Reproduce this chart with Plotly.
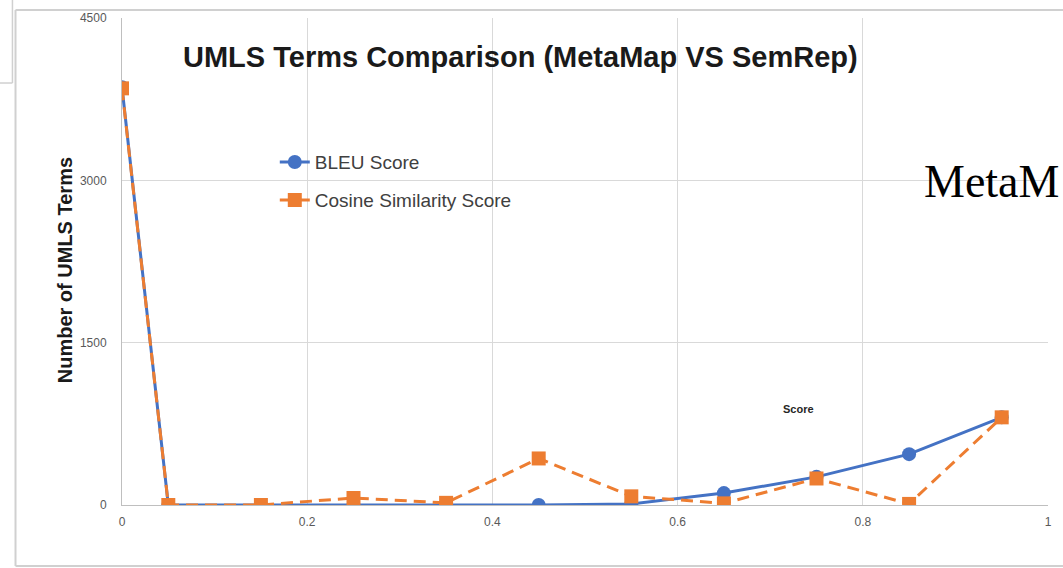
import plotly.graph_objects as go

# Score bins (x) and number of UMLS terms per bin for each metric
score_bins = [0, 0.05, 0.15, 0.25, 0.35, 0.45, 0.55, 0.65, 0.75, 0.85, 0.95]
bleu_terms = [3860, 0, 0, 0, 5, 0, 10, 110, 260, 470, 810]
cosine_terms = [3850, 0, 0, 65, 20, 430, 80, 15, 245, 10, 810]

x_ticks = [0, 0.2, 0.4, 0.6, 0.8, 1]
y_ticks = [0, 1500, 3000, 4500]

BLUE = "#4472C4"
ORANGE = "#ED7D31"
GRID = "#d9d9d9"
FONT = "Liberation Sans, Arial, sans-serif"

fig = go.Figure()

fig.add_trace(go.Scatter(
    x=score_bins, y=bleu_terms, name="BLEU Score", mode="lines+markers",
    line=dict(color=BLUE, width=3),
    marker=dict(symbol="circle", size=14, color=BLUE),
    legend="legend",
))
fig.add_trace(go.Scatter(
    x=score_bins, y=cosine_terms, name="Cosine Similarity Score", mode="lines+markers",
    line=dict(color=ORANGE, width=3, dash="12px,7px"),
    marker=dict(symbol="square", size=14, color=ORANGE),
    legend="legend2",
))

legend_style = dict(
    bgcolor="rgba(0,0,0,0)", borderwidth=0,
    font=dict(family=FONT, size=19, color="#404040"),
    xanchor="left", yanchor="middle",
)

fig.update_layout(
    width=1063, height=568,
    margin=dict(l=122, r=11, t=18, b=63),
    paper_bgcolor="white", plot_bgcolor="white",
    showlegend=True,
    legend=dict(x=0.165, y=0.704, **legend_style),
    legend2=dict(x=0.165, y=0.626, **legend_style),
    xaxis=dict(
        range=[0, 1], tickvals=x_ticks, ticktext=[str(v) for v in x_ticks],
        showgrid=True, gridcolor=GRID, gridwidth=1,
        showline=True, linecolor="#bfbfbf", linewidth=1,
        zeroline=False, ticks="", ticklabelstandoff=6,
        tickfont=dict(family=FONT, size=12, color="#595959"),
    ),
    yaxis=dict(
        range=[0, 4500], tickvals=y_ticks,
        showgrid=True, gridcolor=GRID, gridwidth=1,
        showline=True, linecolor="#bfbfbf", linewidth=1,
        zeroline=False, ticks="", ticklabelstandoff=12,
        tickfont=dict(family=FONT, size=12, color="#595959"),
    ),
    annotations=[
        dict(text="<b>UMLS Terms Comparison (MetaMap VS SemRep)</b>",
             xref="paper", yref="paper", x=0.43, y=0.92,
             xanchor="center", yanchor="middle", showarrow=False,
             font=dict(family=FONT, size=29, color="#1a1a1a")),
        dict(text="<b>Number of UMLS Terms</b>",
             xref="paper", yref="paper", x=-0.0613, y=0.4825, textangle=-90,
             xanchor="center", yanchor="middle", showarrow=False,
             font=dict(family=FONT, size=20, color="#1a1a1a")),
        dict(text="<b>Score</b>",
             xref="paper", yref="paper", x=0.731, y=0.197,
             xanchor="center", yanchor="middle", showarrow=False,
             font=dict(family=FONT, size=11, color="#262626")),
        dict(text="MetaM",
             xref="paper", yref="paper", x=0.8634, y=0.665,
             xanchor="left", yanchor="middle", showarrow=False,
             font=dict(family="Liberation Serif, Times New Roman, serif", size=46, color="black")),
    ],
    shapes=[
        # outer chart frame
        dict(type="line", xref="paper", yref="paper", x0=-0.115, x1=-0.115, y0=1.0164, y1=-0.1253,
             line=dict(color="#d0d0d0", width=2)),
        dict(type="line", xref="paper", yref="paper", x0=-0.115, x1=1.05, y0=1.0164, y1=1.0164,
             line=dict(color="#d0d0d0", width=2)),
        dict(type="line", xref="paper", yref="paper", x0=-0.115, x1=1.05, y0=-0.1253, y1=-0.1253,
             line=dict(color="#d0d0d0", width=2)),
        # neighbouring panel corner at top-left
        dict(type="line", xref="paper", yref="paper", x0=-0.14, x1=-0.1183, y0=0.8665, y1=0.8665,
             line=dict(color="#d0d0d0", width=1.5)),
        dict(type="line", xref="paper", yref="paper", x0=-0.1183, x1=-0.1183, y0=0.8665, y1=1.05,
             line=dict(color="#d0d0d0", width=1.5)),
    ],
)

fig.write_html("out.html")
